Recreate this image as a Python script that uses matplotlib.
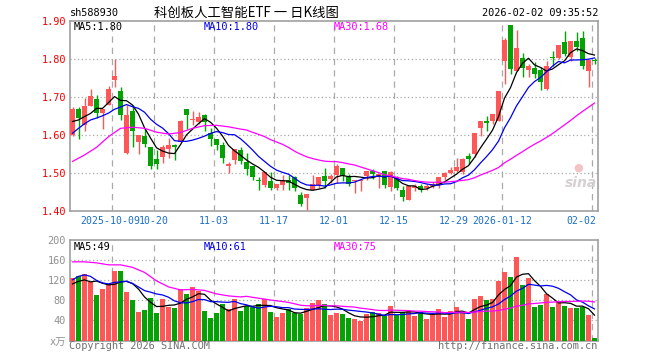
import matplotlib
matplotlib.use("Agg")
import matplotlib.pyplot as plt
import numpy as np
import pandas as pd

# daily candles (CNY)
opens = [1.600, 1.668, 1.627, 1.677, 1.695, 1.658, 1.680, 1.746, 1.717, 1.554,
         1.664, 1.583, 1.598, 1.568, 1.538, 1.542, 1.564, 1.575, 1.583, 1.668,
         1.641, 1.635, 1.653, 1.606, 1.589, 1.574, 1.518, 1.534, 1.560, 1.530,
         1.518, 1.483, 1.468, 1.480, 1.462, 1.468, 1.482, 1.489, 1.442, 1.436,
         1.457, 1.468, 1.492, 1.486, 1.495, 1.515, 1.489, 1.480, 1.480, 1.492,
         1.506, 1.492, 1.505, 1.464, 1.489, 1.455, 1.429, 1.462, 1.466, 1.462,
         1.466, 1.468, 1.489, 1.501, 1.506, 1.504, 1.546, 1.550, 1.618, 1.636,
         1.636, 1.636, 1.794, 1.890, 1.769, 1.804, 1.771, 1.776, 1.771, 1.721,
         1.805, 1.804, 1.844, 1.806, 1.848, 1.855, 1.768, 1.797]
highs = [1.675, 1.674, 1.697, 1.721, 1.706, 1.668, 1.730, 1.800, 1.726, 1.680,
         1.680, 1.601, 1.618, 1.570, 1.561, 1.575, 1.592, 1.577, 1.640, 1.668,
         1.664, 1.662, 1.655, 1.618, 1.590, 1.582, 1.530, 1.565, 1.569, 1.552,
         1.518, 1.489, 1.504, 1.504, 1.473, 1.495, 1.495, 1.492, 1.451, 1.446,
         1.495, 1.489, 1.515, 1.497, 1.524, 1.515, 1.497, 1.483, 1.483, 1.506,
         1.512, 1.497, 1.505, 1.506, 1.492, 1.466, 1.466, 1.471, 1.471, 1.471,
         1.477, 1.489, 1.504, 1.517, 1.539, 1.541, 1.554, 1.607, 1.638, 1.651,
         1.655, 1.715, 1.855, 1.890, 1.876, 1.815, 1.787, 1.791, 1.778, 1.796,
         1.822, 1.838, 1.875, 1.848, 1.870, 1.875, 1.797, 1.803]
lows = [1.598, 1.589, 1.610, 1.677, 1.645, 1.617, 1.678, 1.726, 1.640, 1.551,
        1.568, 1.551, 1.568, 1.510, 1.510, 1.526, 1.539, 1.535, 1.583, 1.616,
        1.627, 1.630, 1.611, 1.572, 1.562, 1.527, 1.501, 1.525, 1.525, 1.495,
        1.482, 1.457, 1.464, 1.457, 1.457, 1.457, 1.455, 1.453, 1.413, 1.404,
        1.457, 1.462, 1.462, 1.475, 1.475, 1.480, 1.466, 1.448, 1.453, 1.483,
        1.485, 1.460, 1.462, 1.453, 1.457, 1.427, 1.429, 1.453, 1.451, 1.457,
        1.462, 1.460, 1.483, 1.497, 1.504, 1.499, 1.524, 1.543, 1.598, 1.611,
        1.629, 1.636, 1.734, 1.760, 1.768, 1.752, 1.752, 1.750, 1.718, 1.718,
        1.782, 1.800, 1.809, 1.796, 1.820, 1.774, 1.727, 1.787]
closes = [1.668, 1.645, 1.677, 1.704, 1.658, 1.668, 1.721, 1.756, 1.654, 1.654,
          1.611, 1.601, 1.577, 1.520, 1.525, 1.568, 1.575, 1.570, 1.638, 1.653,
          1.643, 1.648, 1.635, 1.591, 1.574, 1.541, 1.524, 1.565, 1.532, 1.512,
          1.489, 1.480, 1.504, 1.462, 1.473, 1.483, 1.475, 1.462, 1.420, 1.446,
          1.473, 1.489, 1.480, 1.492, 1.518, 1.492, 1.473, 1.483, 1.483, 1.506,
          1.497, 1.497, 1.468, 1.503, 1.460, 1.438, 1.466, 1.466, 1.457, 1.466,
          1.473, 1.489, 1.501, 1.508, 1.517, 1.537, 1.537, 1.607, 1.636, 1.631,
          1.655, 1.715, 1.850, 1.774, 1.829, 1.776, 1.782, 1.762, 1.741, 1.782,
          1.803, 1.838, 1.813, 1.848, 1.831, 1.782, 1.797, 1.795]
# volume, unit 万
volumes = [125, 128, 133, 116, 91, 103, 112, 139, 139, 97,
           81, 57, 61, 85, 55, 83, 67, 65, 103, 93,
           107, 99, 59, 45, 55, 73, 63, 83, 59, 69,
           67, 73, 83, 57, 47, 55, 63, 55, 53, 65,
           75, 81, 73, 51, 55, 53, 45, 43, 39, 53,
           57, 55, 49, 69, 51, 57, 59, 49, 57, 43,
           53, 63, 47, 59, 67, 57, 43, 83, 89, 81,
           83, 119, 137, 127, 167, 111, 125, 67, 71, 93,
           67, 77, 69, 65, 65, 67, 51, 5]

# start of the MA lines (they use days before the window)
ma5_head = [1.636, 1.640, 1.649, 1.657]
ma10_head = [1.605, 1.618, 1.630, 1.640, 1.645, 1.651, 1.658, 1.668, 1.674]
ma30_head = [1.531, 1.548, 1.568, 1.596, 1.618, 1.621, 1.618, 1.608,
             1.603, 1.607, 1.618, 1.625, 1.626, 1.622, 1.616]  # every 2nd day
vma5_head = [113, 118, 121, 117]
vma10_head = [121, 128, 131, 128, 120, 115, 113, 116, 117]
vma30_head = [157, 157, 155, 151, 151, 146, 136, 119, 107, 101, 102, 100, 93, 89, 87]

date_pos = [7, 14, 24, 34, 44, 54, 64, 72, 87]
date_labels = ["2025-10-09", "10-20", "11-03", "11-17", "12-01", "12-15",
               "12-29", "2026-01-12", "02-02"]
price_ticks = [1.40, 1.50, 1.60, 1.70, 1.80, 1.90]
vol_ticks = [40, 80, 120, 160, 200]

RED = "#ff5757"
GREEN = "#04a204"
GRID = "#aaaaaa"
FRAME = "#a0a0a0"
MONO = ["DejaVu Sans Mono", "Noto Sans CJK SC"]
W, H = 660, 360


def fx(x):
    return x / W


def fy(y):
    return 1 - y / H


def ma_line(values, head, n, step=1):
    s = pd.Series(values, dtype=float)
    xs = list(range(0, len(head) * step, step)) + list(range(n - 1, len(values)))
    ys = list(head) + list(s.rolling(n).mean().iloc[n - 1:])
    return xs, ys


df = pd.DataFrame({"open": opens, "high": highs, "low": lows,
                   "close": closes, "vol": volumes})
x = np.arange(len(df))
cols = np.where(df["close"] >= df["open"], RED, GREEN)

fig = plt.figure(figsize=(6.6, 3.6), dpi=100)
ax = fig.add_axes([fx(70), fy(211.3), fx(527.5), 190.3 / H])
axv = fig.add_axes([fx(70), fy(340.5), fx(527.5), 100.2 / H])

# candles
body_lo = df[["open", "close"]].min(axis=1)
body_h = (df["close"] - df["open"]).abs().clip(lower=0.0018)
ax.vlines(x, df["low"], df["high"], colors=cols, lw=1.0, zorder=3)
ax.bar(x, body_h, bottom=body_lo, width=0.8, color=cols, lw=0, zorder=4)

for vals, head, n, step, c in [(closes, ma5_head, 5, 1, "black"),
                               (closes, ma10_head, 10, 1, "#0000ee"),
                               (closes, ma30_head, 30, 2, "#ff00ff")]:
    xs, ys = ma_line(vals, head, n, step)
    ax.plot(xs, ys, color=c, lw=0.9, zorder=5)

# volume
axv.bar(x, df["vol"], width=0.8, color=cols, lw=0, zorder=3)
for vals, head, n, step, c in [(volumes, vma5_head, 5, 1, "black"),
                               (volumes, vma10_head, 10, 1, "#0000ee"),
                               (volumes, vma30_head, 30, 2, "#ff00ff")]:
    xs, ys = ma_line(vals, head, n, step)
    axv.plot(xs, ys, color=c, lw=0.9, zorder=5)

ax.set_ylim(1.40, 1.90)
axv.set_ylim(0, 200)
for a in (ax, axv):
    a.set_xlim(-0.42, 87.5)
    for sp in a.spines.values():
        sp.set_color(FRAME)
        sp.set_linewidth(1.2)
    for d in date_pos:
        a.axvline(d - 0.4, color=GRID, lw=0.9, ls=(0, (5, 4)), zorder=1)
    a.set_xticks([])
    a.tick_params(length=0, pad=3)

for t in price_ticks[1:-1]:
    ax.axhline(t, color=GRID, lw=0.9, ls=(0, (1, 2)), zorder=1)
for t in vol_ticks[:-1]:
    axv.axhline(t, color=GRID, lw=0.9, ls=(0, (1, 2)), zorder=1)

ax.set_yticks(price_ticks)
ax.set_yticklabels([f"{t:.2f}" for t in price_ticks], color="#ff0000",
                   family=MONO, fontsize=7.4)
axv.set_yticks([0] + vol_ticks)
axv.set_yticklabels(["x万"] + [str(t) for t in vol_ticks], color="#909090",
                    family=MONO, fontsize=7.4)

# date labels under the price panel (first one nudged left, last one right-aligned)
for i, (d, lab) in enumerate(zip(date_pos, date_labels)):
    ha, xpos = "center", d - 0.4
    if i == 0:
        xpos = d - 0.75
    if i == len(date_pos) - 1:
        ha, xpos = "right", d + 0.3
    ax.text(xpos, -0.025, lab, transform=ax.get_xaxis_transform(), ha=ha,
            va="top", color="#1a6fc4", family=MONO, fontsize=7.1)

# header
fig.text(fx(70), fy(13), "sh588930", family=MONO, fontsize=7.4, va="center")
fig.text(fx(246), fy(13), "科创板人工智能ETF 一 日K线图",
         family=["Noto Sans CJK SC", "DejaVu Sans"], fontsize=9.6,
         ha="center", va="center")
fig.text(fx(598), fy(13), "2026-02-02 09:35:52", family=MONO, fontsize=7.4,
         ha="right", va="center")

# MA labels
fig.text(fx(74), fy(26.5), "MA5:1.80", family=MONO, fontsize=7.4,
         va="center", color="black")
fig.text(fx(204), fy(26.5), "MA10:1.80", family=MONO, fontsize=7.4,
         va="center", color="#0000ee")
fig.text(fx(334), fy(26.5), "MA30:1.68", family=MONO, fontsize=7.4,
         va="center", color="#ff00ff")
fig.text(fx(74), fy(246.5), "MA5:49", family=MONO, fontsize=7.4,
         va="center", color="black")
fig.text(fx(204), fy(246.5), "MA10:61", family=MONO, fontsize=7.4,
         va="center", color="#0000ee")
fig.text(fx(334), fy(246.5), "MA30:75", family=MONO, fontsize=7.4,
         va="center", color="#ff00ff")

# footer + watermark
fig.text(fx(69), fy(346), "Copyright 2026 SINA.COM", family=MONO,
         fontsize=7.4, va="center", color="#707070")
fig.text(fx(597), fy(346), "http://finance.sina.com.cn", family=MONO,
         fontsize=7.4, va="center", ha="right", color="#707070")
fig.text(fx(597), fy(183), "sina", fontsize=10, fontstyle="italic",
         fontweight="bold", ha="right", va="center", color="#d6d0d0")
fig.text(fx(578), fy(168), "●", fontsize=8, ha="center", va="center",
         color="#f3c4c4")

fig.savefig("out.png", dpi=100)
